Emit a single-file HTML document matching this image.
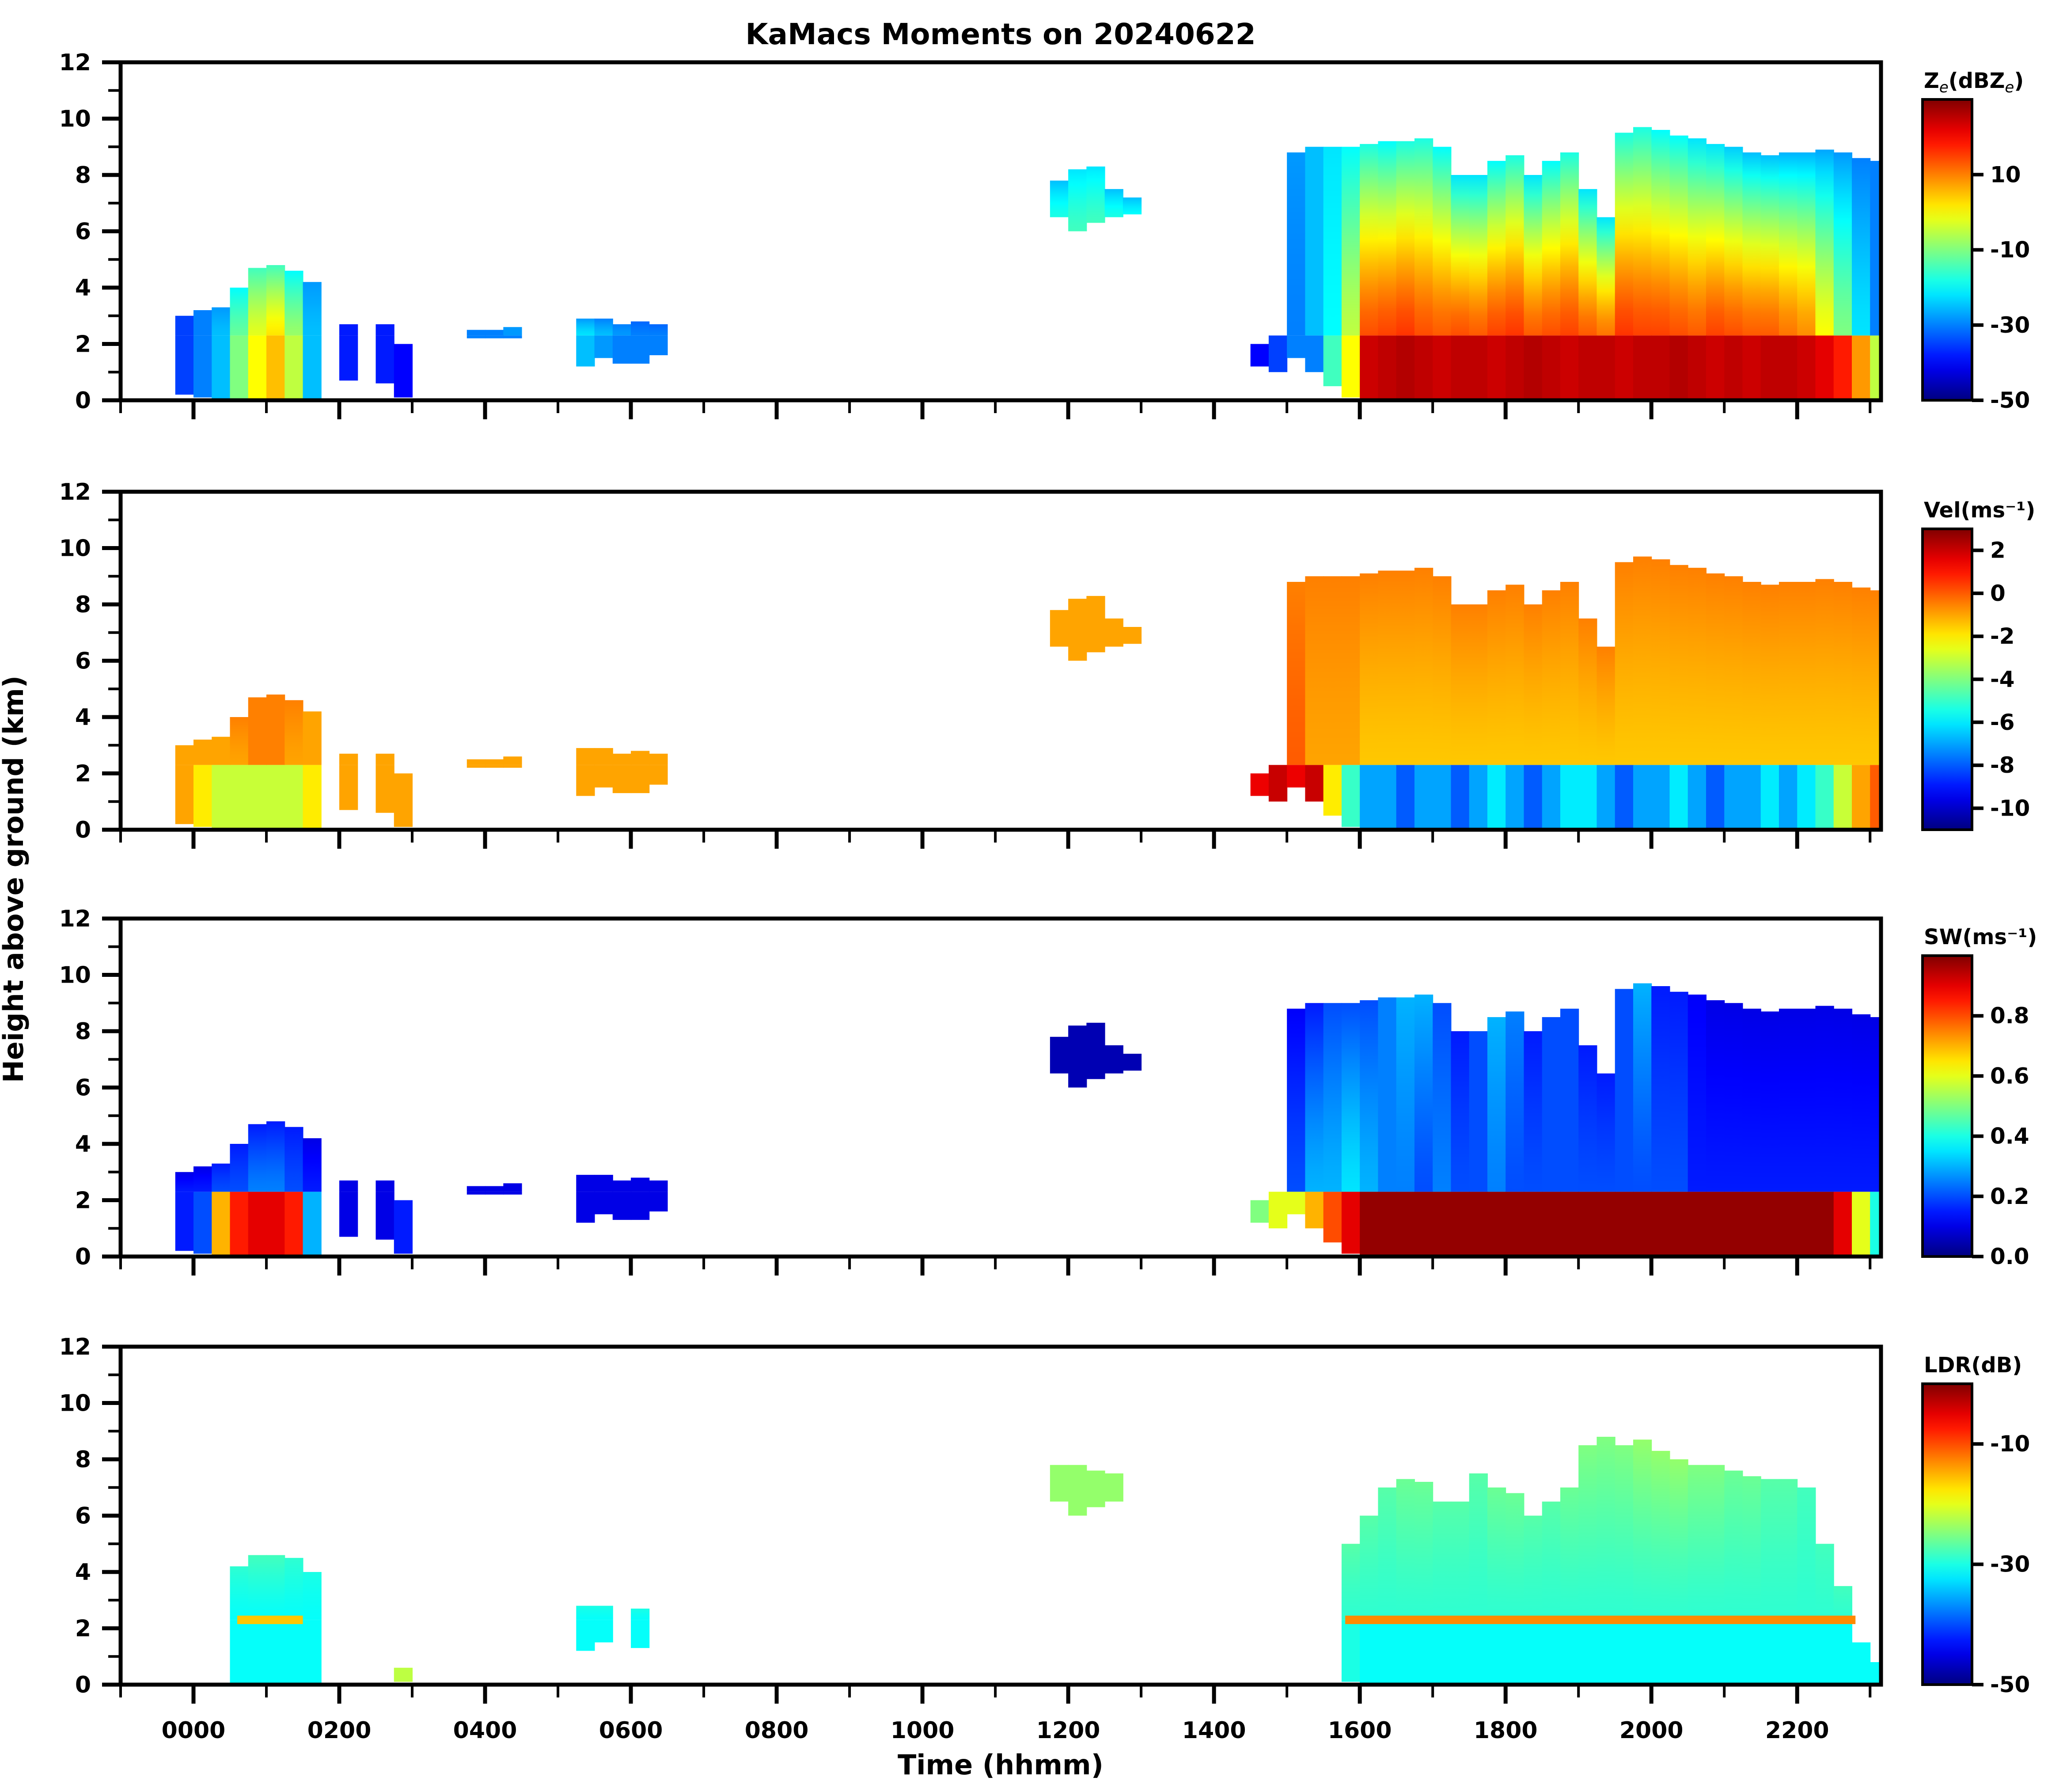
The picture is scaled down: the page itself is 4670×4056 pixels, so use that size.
<!DOCTYPE html>
<html><head><meta charset="utf-8"><style>
html,body{margin:0;padding:0;background:#fff}
svg{display:block}
text{font-family:"DejaVu Sans","Liberation Sans",sans-serif;font-weight:bold;fill:#000}
</style></head><body>
<svg id="fig" width="4670" height="4056" viewBox="0 0 4670 4056" xmlns="http://www.w3.org/2000/svg">
<defs id="defs"></defs>
<text x="2265" y="100" font-size="66" text-anchor="middle">KaMacs Moments on 20240622</text>
<text transform="translate(52,1990) rotate(-90)" font-size="62" text-anchor="middle">Height above ground (km)</text>
<text x="2265" y="4016" font-size="62" text-anchor="middle">Time (hhmm)</text>
</svg>
<script>
// column start times (hours) – each column spans 0.25 h
const colTimes = [-0.25,0,0.25,0.5,0.75,1,1.25,1.5, 2,2.5,2.75, 3.75,4,4.25, 5.25,5.5,5.75,6,6.25, 11.75,12,12.25,12.5,12.75, 14.5,14.75, 15,15.25,15.5,15.75,16,16.25,16.5,16.75,17,17.25,17.5,17.75,18,18.25,18.5,18.75,19,19.25,19.5,19.75,20,20.25,20.5,20.75,21,21.25,21.5,21.75,22,22.25,22.5,22.75,23];
const colBottoms = [0.2,0.1,0,0,0,0,0,0, 0.7,0.6,0.1, 2.2,2.2,2.2, 1.2,1.5,1.3,1.3,1.6, 6.5,6.0,6.3,6.5,6.6, 1.2,1.0, 1.5,1.0,0.5,0.1,0,0,0,0,0,0,0,0,0,0,0,0,0,0,0,0,0,0,0,0,0,0,0,0,0,0,0,0,0];
const colTops = [3.0,3.2,3.3,4.0,4.7,4.8,4.6,4.2, 2.7,2.7,2.0, 2.5,2.5,2.6, 2.9,2.9,2.7,2.8,2.7, 7.8,8.2,8.3,7.5,7.2, 2.0,2.3, 8.8,9.0,9.0,9.0,9.1,9.2,9.2,9.3,9.0,8.0,8.0,8.5,8.7,8.0,8.5,8.8,7.5,6.5,9.5,9.7,9.6,9.4,9.3,9.1,9.0,8.8,8.7,8.8,8.8,8.9,8.8,8.6,8.5];
const ldrTops = [0,0,0,4.2,4.6,4.6,4.5,4.0, 0,0,0.6, 0,0,0, 2.8,2.8,0,2.7,0, 7.8,7.8,7.6,7.5,0, 0,0, 0,0,0,5.0,6.0,7.0,7.3,7.2,6.5,6.5,7.5,7.0,6.8,6.0,6.5,7.0,8.5,8.8,8.5,8.7,8.3,8.0,7.8,7.8,7.6,7.4,7.3,7.3,7.0,5.0,3.5,1.5,0.8];
const meltHeight = 2.3;
// Ze values (dBZ): below melting, at layer base, at cloud top
const zeLow  = [-35,-30,-25,-10,0,5,-5,-25, -38,-38,-40, -30,-30,-30, -25,-28,-30,-30,-30, -20,-20,-20,-20,-20, -40,-35, -30,-30,-15,0,24,25,26,25,24,25,25,24,25,26,25,24,25,25,24,25,25,26,25,24,25,24,25,25,24,22,18,8,-5];
const zeMid  = [-35,-30,-25,-12,-2,2,-8,-25, -38,-38,-40, -30,-30,-28, -22,-25,-28,-30,-30, -18,-15,-15,-18,-20, -40,-35, -30,-25,-20,-5,14,15,16,14,13,14,13,15,16,13,14,15,13,11,16,15,15,14,13,15,14,13,13,11,9,0,-10,-22,-30];
const zeTop  = [-35,-30,-28,-20,-15,-15,-20,-28, -38,-38,-40, -30,-30,-28, -28,-30,-30,-32,-32, -25,-22,-22,-25,-25, -40,-35, -28,-25,-22,-20,-18,-20,-18,-18,-20,-22,-22,-20,-18,-22,-20,-18,-22,-22,-18,-18,-20,-20,-22,-22,-24,-25,-25,-26,-26,-27,-28,-30,-30];
// Doppler velocity (m/s)
const velLow = [-1,-2,-3,-3,-3,-3,-3,-2, -1,-1,-1, -1,-1,-1, -1,-1,-1,-1,-1, -1,-1,-1,-1,-1, 1.5,2, 1.5,2,-2,-5,-7,-7,-8,-7,-7,-8,-7,-6,-7,-8,-7,-6,-6,-7,-8,-7,-7,-6,-7,-8,-7,-7,-6,-7,-6,-5,-3,-1,0];
const velMid = [-1,-1,-1,-1,-0.5,-0.5,-1,-1, -1,-1,-1, -1,-1,-1, -1,-1,-1,-1,-1, -1,-1,-1,-1,-1, 1.5,2, 0,-1,-1,-1,-1.5,-1.5,-1.5,-1.5,-1.5,-1.5,-1.5,-1.5,-1.5,-1.5,-1.5,-1.5,-1.5,-1.5,-1.5,-1.5,-1.5,-1.5,-1.5,-1.5,-1.5,-1.5,-1.5,-1.5,-1.5,-1.5,-1.5,-1.5,-1.5];
const velTop = [-1,-1,-1,-0.5,-0.5,-0.5,-0.5,-1, -1,-1,-1, -1,-1,-1, -1,-1,-1,-1,-1, -1,-1,-1,-1,-1, 1.5,2, -0.5,-0.5,-0.5,-0.5,-0.5,-0.5,-0.5,-0.5,-0.5,-0.5,-0.5,-0.5,-0.5,-0.5,-0.5,-0.5,-0.5,-0.5,-0.5,-0.5,-0.5,-0.5,-0.5,-0.5,-0.5,-0.5,-0.5,-0.5,-0.5,-0.5,-0.5,-0.5,-0.5];
// spectrum width (m/s)
const swLow = [0.15,0.2,0.7,0.85,0.9,0.9,0.85,0.3, 0.1,0.1,0.15, 0.1,0.1,0.1, 0.1,0.1,0.1,0.1,0.1, 0.05,0.05,0.05,0.05,0.05, 0.5,0.6, 0.6,0.7,0.8,0.9,0.98,0.98,0.98,0.98,0.98,0.98,0.98,0.98,0.98,0.98,0.98,0.98,0.98,0.98,0.98,0.98,0.98,0.98,0.98,0.98,0.98,0.98,0.98,0.98,0.98,0.98,0.9,0.6,0.4];
const swMid = [0.15,0.15,0.2,0.2,0.25,0.25,0.2,0.15, 0.1,0.1,0.15, 0.1,0.1,0.1, 0.1,0.1,0.1,0.1,0.1, 0.05,0.05,0.05,0.05,0.05, 0.5,0.6, 0.2,0.3,0.3,0.35,0.3,0.25,0.25,0.2,0.25,0.2,0.2,0.25,0.2,0.2,0.2,0.2,0.2,0.2,0.2,0.2,0.2,0.2,0.15,0.15,0.15,0.15,0.15,0.15,0.15,0.15,0.15,0.15,0.15];
const swTop = [0.1,0.1,0.15,0.15,0.15,0.15,0.15,0.1, 0.1,0.1,0.15, 0.1,0.1,0.1, 0.1,0.1,0.1,0.1,0.1, 0.05,0.05,0.05,0.05,0.05, 0.5,0.6, 0.12,0.15,0.2,0.2,0.2,0.25,0.3,0.3,0.2,0.15,0.2,0.3,0.25,0.15,0.2,0.2,0.15,0.15,0.2,0.3,0.15,0.15,0.12,0.1,0.1,0.1,0.1,0.1,0.1,0.1,0.1,0.1,0.1];
// LDR (dB)
const ldrLow = [-30,-30,-30,-31,-31,-31,-31,-31, -30,-30,-22, -30,-30,-30, -31,-31,-31,-31,-31, -24,-24,-24,-24,-24, -20,-20, -20,-20,-20,-30,-31,-31,-31,-31,-31,-31,-31,-31,-31,-31,-31,-31,-31,-31,-31,-31,-31,-31,-31,-31,-31,-31,-31,-31,-31,-31,-31,-31,-31];
const ldrMid = [-30,-30,-30,-31,-31,-31,-31,-31, -30,-30,-22, -30,-30,-30, -31,-31,-31,-31,-31, -24,-24,-24,-24,-24, -20,-20, -20,-20,-20,-29,-29,-29,-29,-29,-29,-29,-29,-29,-29,-29,-29,-29,-29,-29,-29,-29,-29,-29,-29,-29,-29,-29,-29,-29,-29,-29,-29,-29,-29];
const ldrTop = [-30,-30,-30,-29,-28,-28,-29,-30, -30,-30,-22, -30,-30,-30, -30,-30,-30,-30,-30, -24,-24,-24,-24,-24, -20,-20, -20,-20,-20,-27,-27,-27,-26,-26,-27,-27,-27,-26,-26,-27,-27,-26,-25,-25,-25,-24,-24,-24,-25,-25,-26,-26,-27,-27,-28,-28,-28,-28,-28];
// bright-band segments in LDR: start, end, value
const bandStarts = [0.6, 15.8];
const bandEnds = [1.5, 22.8];
const bandValues = [-16, -13];
// axes ticks
const yTicks = [0,2,4,6,8,10,12];
const xMajor = [0,2,4,6,8,10,12,14,16,18,20,22];
const xLabels = ["0000","0200","0400","0600","0800","1000","1200","1400","1600","1800","2000","2200"];
const cbZeTicks = [10,-10,-30,-50];
const cbVelTicks = [2,0,-2,-4,-6,-8,-10];
const cbSwTicks = [0.8,0.6,0.4,0.2,0.0];
const cbLdrTicks = [-10,-30,-50];

const NS="http://www.w3.org/2000/svg";
const svg=document.getElementById('fig');
const defs=document.getElementById('defs');
const L=273,R=4258,T0=-1,T1=23.15,PH=765;
const panelTops=[141,1113,2079,3048];
function xs(t){return L+(t-T0)/(T1-T0)*(R-L);}
function jet(v){
  v=Math.max(0,Math.min(1,v));
  function c(x){return Math.max(0,Math.min(1,x));}
  const r=c(1.5-Math.abs(4*v-3)), g=c(1.5-Math.abs(4*v-2)), b=c(1.5-Math.abs(4*v-1));
  return 'rgb('+Math.round(r*255)+','+Math.round(g*255)+','+Math.round(b*255)+')';
}
function el(tag,attrs,parent){const e=document.createElementNS(NS,tag);for(const k in attrs)e.setAttribute(k,attrs[k]);(parent||svg).appendChild(e);return e;}
let gid=0;
const panels=[
 {name:'ze',label:'Z',vmin:-50,vmax:30,low:zeLow,mid:zeMid,top:zeTop,tops:colTops,ticks:cbZeTicks,fmt:v=>String(v)},
 {name:'vel',label:'Vel(ms\u207B\u00B9)',vmin:-11,vmax:3,low:velLow,mid:velMid,top:velTop,tops:colTops,ticks:cbVelTicks,fmt:v=>String(v)},
 {name:'sw',label:'SW(ms\u207B\u00B9)',vmin:0,vmax:1,low:swLow,mid:swMid,top:swTop,tops:colTops,ticks:cbSwTicks,fmt:v=>v.toFixed(1)},
 {name:'ldr',label:'LDR(dB)',vmin:-50,vmax:0,low:ldrLow,mid:ldrMid,top:ldrTop,tops:ldrTops,ticks:cbLdrTicks,fmt:v=>String(v)}
];
panels.forEach((p,pi)=>{
  const top=panelTops[pi],bot=top+PH;
  const ys=h=>bot-h/12*PH;
  const nrm=v=>(v-p.vmin)/(p.vmax-p.vmin);
  const g=el('g',{});
  
  
  for(let i=0;i<colTimes.length;i++){
    const b=colBottoms[i],tp=p.tops[i];
    if(tp<=b)continue;
    const x0=xs(colTimes[i]),x1=Math.min(xs(colTimes[i]+0.25),R)+1;
    if(b<meltHeight){
      const r=el('rect',{x:x0,y:ys(Math.min(tp,meltHeight)),width:x1-x0,height:ys(b)-ys(Math.min(tp,meltHeight)),fill:jet(nrm(p.low[i]))},g);
      
      
    }
    if(tp>meltHeight){
      const lb=Math.max(b,meltHeight);
      const id='gr'+(gid++);
      const lg=el('linearGradient',{id:id,x1:0,y1:1,x2:0,y2:0},defs);
      for(let s=0;s<=8;s++){
        const f=s/8;
        const w=Math.pow(f,1.3);
        el('stop',{offset:f,'stop-color':jet(nrm(p.mid[i]+(p.top[i]-p.mid[i])*w))},lg);
      }
      const r=el('rect',{x:x0,y:ys(tp),width:x1-x0,height:ys(lb)-ys(tp),fill:'url(#'+id+')'},g);
      
      
    }
  }
  if(p.name==='ldr'){
    for(let k=0;k<bandStarts.length;k++){
      const r=el('rect',{x:xs(bandStarts[k]),y:ys(meltHeight+0.15),width:xs(bandEnds[k])-xs(bandStarts[k]),height:ys(meltHeight-0.15)-ys(meltHeight+0.15),fill:jet(nrm(bandValues[k]))},g);
      
      
    }
  }
  const fr=el('rect',{x:L,y:top,width:R-L,height:PH,fill:'none',stroke:'#000','stroke-width':9});
  
  
  for(let h=0;h<=12;h++){
    const major=h%2===0;
    el('line',{x1:L,x2:L-(major?42:28),y1:ys(h),y2:ys(h),stroke:'#000','stroke-width':major?9:6});
  }
  yTicks.forEach(h=>{
    const t=el('text',{x:206,y:ys(h)+18,'font-size':52,'text-anchor':'end'});
    t.textContent=h;
    
    
  });
  for(let hr=-1;hr<=23;hr++){
    const major=((hr%2)+2)%2===0;
    el('line',{x1:xs(hr),x2:xs(hr),y1:bot,y2:bot+(major?43:29),stroke:'#000','stroke-width':major?9:6});
  }
  if(pi===3){
    xMajor.forEach((hr,k)=>{
      const t=el('text',{x:xs(hr),y:3934,'font-size':52,'text-anchor':'middle'});
      t.textContent=xLabels[k];
      
      
    });
  }
  const cx=4352,cw=112,ct=top+84,cb=bot;
  const id='cb'+pi;
  const lg=el('linearGradient',{id:id,x1:0,y1:1,x2:0,y2:0},defs);
  for(let s=0;s<=20;s++){el('stop',{offset:s/20,'stop-color':jet(s/20)},lg);}
  const cr=el('rect',{x:cx,y:ct,width:cw,height:cb-ct,fill:'url(#'+id+')',stroke:'#000','stroke-width':6});
  
  
  p.ticks.forEach(v=>{
    const yy=cb-(v-p.vmin)/(p.vmax-p.vmin)*(cb-ct);
    el('line',{x1:cx+cw,x2:cx+cw+26,y1:yy,y2:yy,stroke:'#000','stroke-width':8});
    const t=el('text',{x:4505,y:yy+17,'font-size':50});
    t.textContent=p.fmt(v);
    
    
  });
  const lt=el('text',{x:4355,y:top+58,'font-size':48});
  if(p.name==='ze'){
    lt.innerHTML='Z<tspan font-size="34" dy="10" font-style="italic" font-weight="normal">e</tspan><tspan dy="-10">(dBZ</tspan><tspan font-size="34" dy="10" font-style="italic" font-weight="normal">e</tspan><tspan dy="-10">)</tspan>';
  } else lt.textContent=p.label;
  
  
});
</script>
</body></html>
